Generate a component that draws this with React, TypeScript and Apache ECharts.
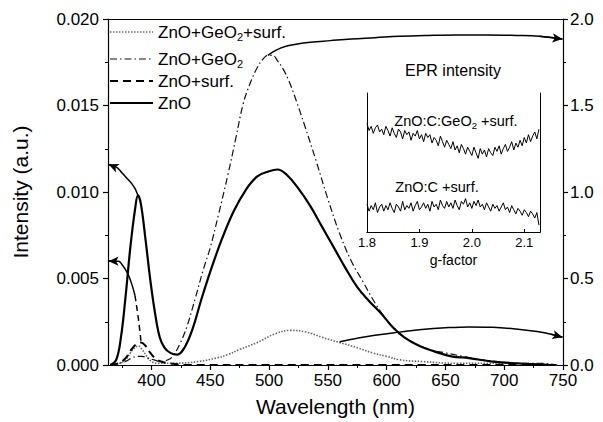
import { useEffect, useRef } from "react";
import * as echarts from "echarts";

const FONT = "Liberation Sans, Arial, sans-serif";

const xMajorTicks = [400, 450, 500, 550, 600, 650, 700, 750];
const xMinorTicks = [375, 425, 475, 525, 575, 625, 675, 725];
const insetTicks = [1.8, 1.9, 2.0, 2.1];

const seriesNames = ["ZnO+GeO2+surf.", "ZnO+GeO2", "ZnO+surf.", "ZnO"];

// ZnO (solid)
const znoWl = [365, 370, 374, 378, 382, 386, 388.5, 391, 395, 399, 403, 407, 411, 416, 422, 428, 435, 442, 450, 460, 470, 480, 490, 500, 507, 515, 525, 535, 545, 555, 565, 575, 585, 595, 605, 615, 628, 640, 655, 670, 690, 710, 740];
const znoVal = [0, 0.0003, 0.0016, 0.004, 0.0068, 0.009, 0.0098, 0.0093, 0.0072, 0.0049, 0.003, 0.0016, 0.001, 0.0007, 0.0006, 0.001, 0.0021, 0.0037, 0.0054, 0.0073, 0.0089, 0.0101, 0.0109, 0.0112, 0.0113, 0.011, 0.0102, 0.0092, 0.008, 0.0068, 0.0056, 0.0045, 0.0037, 0.003, 0.0022, 0.0016, 0.0011, 0.0008, 0.0005, 0.0004, 0.0002, 0.0001, 0];

// ZnO+GeO2 (dash-dot)
const geoWl = [365, 372, 378, 383, 388, 392, 397, 402, 408, 414, 418, 424, 430, 437, 444, 450, 457, 465, 472, 478, 484, 490, 495, 499, 503, 507, 512, 517, 523, 530, 540, 550, 560, 570, 580, 590, 600, 610, 620, 636, 650, 665, 680, 694, 710, 730, 745];
const geoVal = [0, 0.0001, 0.0002, 0.0004, 0.0005, 0.0005, 0.0004, 0.0003, 0.0002, 0.0003, 0.0005, 0.0012, 0.0022, 0.0038, 0.0055, 0.0068, 0.0087, 0.011, 0.0132, 0.0151, 0.0163, 0.0172, 0.0177, 0.0179, 0.0179, 0.0176, 0.0171, 0.0164, 0.0153, 0.0139, 0.0118, 0.0096, 0.0076, 0.006, 0.0048, 0.0036, 0.0026, 0.0019, 0.0014, 0.0009, 0.0007, 0.0005, 0.0003, 0.0002, 0.0001, 0.0001, 0];

// ZnO+surf. (dashed)
const surfWl = [365, 372, 378, 383, 387, 391, 395, 399, 403, 408, 415, 430, 500, 600, 700, 745];
const surfVal = [0, 0.0001, 0.0004, 0.0009, 0.0012, 0.0013, 0.0011, 0.0007, 0.0004, 0.0002, 0.0001, 0, 0, 0, 0, 0];

// ZnO+GeO2+surf. (dotted)
const geoSurfWl = [365, 373, 378, 382, 386, 389, 392, 396, 400, 405, 420, 440, 455, 465, 475, 490, 505, 518, 532, 545, 560, 575, 588, 600, 611, 630, 660, 700, 745];
const geoSurfVal = [0, 0.0001, 0.0003, 0.0007, 0.001, 0.0011, 0.0009, 0.0005, 0.0002, 0.0001, 0.0001, 0.0002, 0.0004, 0.0006, 0.0009, 0.0013, 0.0018, 0.002, 0.0019, 0.0016, 0.0013, 0.001, 0.0007, 0.0005, 0.0003, 0.0002, 0.0001, 0.0001, 0];

// annotation arrows (data coordinates)
const arrowZnoWl = [388.5, 386, 383, 379, 375, 371, 367, 363.5];
const arrowZnoVal = [0.0098, 0.0102, 0.0105, 0.0108, 0.0111, 0.0114, 0.0115, 0.0116];
const arrowSurfWl = [386, 384, 381, 378, 375, 372, 368, 363.5];
const arrowSurfVal = [0.004, 0.0045, 0.0051, 0.0055, 0.0058, 0.006, 0.006, 0.006];
const arrowSurfLinkWl = [391, 389, 386];
const arrowSurfLinkVal = [0.0014, 0.0026, 0.004];
const arrowGeoWl = [499, 506, 513, 524, 535, 552, 570, 590, 611, 635, 660, 685, 710, 730, 749.5];
const arrowGeoVal = [1.79, 1.82, 1.84, 1.855, 1.865, 1.875, 1.885, 1.892, 1.9, 1.905, 1.908, 1.908, 1.905, 1.9, 1.885];
const arrowGeoSurfWl = [560, 575, 590, 611, 630, 650, 670, 690, 710, 728, 740, 749.5];
const arrowGeoSurfVal = [0.135, 0.155, 0.172, 0.19, 0.205, 0.215, 0.22, 0.218, 0.208, 0.193, 0.178, 0.16];

// EPR inset traces (g-factor sampled every 0.004 from 1.800)
const eprGeoSurf = [
  0.78, 0.73, 0.76, 0.71, 0.75, 0.77, 0.72, 0.74, 0.7, 0.76,
  0.73, 0.69, 0.75, 0.71, 0.68, 0.74, 0.72, 0.67, 0.73, 0.7,
  0.72, 0.66, 0.71, 0.69, 0.73, 0.67, 0.7, 0.65, 0.71, 0.68,
  0.7, 0.64, 0.68, 0.66, 0.62, 0.69, 0.65, 0.61, 0.66, 0.63,
  0.6, 0.65, 0.59, 0.62, 0.57, 0.63, 0.6, 0.56, 0.61, 0.58,
  0.55, 0.61, 0.57, 0.53, 0.6, 0.56, 0.59, 0.54, 0.6, 0.57,
  0.55, 0.61, 0.58, 0.62, 0.56, 0.6, 0.63, 0.58, 0.61, 0.65,
  0.59, 0.64, 0.61, 0.66, 0.62, 0.68, 0.64, 0.7, 0.65, 0.69,
  0.72, 0.67, 0.74,
];
const eprSurf = [
  0.2, 0.15, 0.19, 0.16, 0.21, 0.14, 0.18, 0.2, 0.15, 0.19,
  0.16, 0.21, 0.17, 0.14, 0.2, 0.18, 0.15, 0.22, 0.16, 0.19,
  0.17, 0.21, 0.15, 0.19, 0.22, 0.16, 0.18, 0.21, 0.17, 0.2,
  0.15, 0.22, 0.18, 0.2, 0.16, 0.23, 0.19, 0.17, 0.22, 0.18,
  0.21, 0.17, 0.23, 0.19, 0.16, 0.22, 0.2, 0.24, 0.18, 0.21,
  0.17, 0.22, 0.19, 0.23, 0.18, 0.2, 0.16, 0.21, 0.18, 0.15,
  0.2, 0.17, 0.19, 0.15, 0.18, 0.21, 0.16, 0.18, 0.14, 0.19,
  0.16, 0.13, 0.17, 0.15, 0.12, 0.16, 0.14, 0.11, 0.15, 0.13,
  0.1, 0.14, 0.05,
];

const pairs = (xs: number[], ys: number[]) => xs.map((x, i) => [x, ys[i]]);
const gPairs = (ys: number[]) => ys.map((y, i) => [+(1.8 + 0.004 * i).toFixed(3), y]);

const legendRich: Record<string, string> = {
  "ZnO+GeO2+surf.": "{t|ZnO+GeO}{s|2}{t|+surf.}",
  "ZnO+GeO2": "{t|ZnO+GeO}{s|2}",
  "ZnO+surf.": "{t|ZnO+surf.}",
  ZnO: "{t|ZnO}",
};
const legendStyles = [
  { stroke: "#666", lineWidth: 1.6, lineDash: [1.5, 1.5] },
  { stroke: "#111", lineWidth: 1.2, lineDash: [7, 3, 1.5, 3] },
  { stroke: "#000", lineWidth: 2, lineDash: [8, 5] },
  { stroke: "#000", lineWidth: 2.2, lineDash: null as any },
];
const legendY = [32, 59, 81, 103];

export default function App() {
  const ref = useRef<HTMLDivElement>(null);
  useEffect(() => {
    if (!ref.current) return;
    const chart = echarts.init(ref.current, undefined, { renderer: "svg" });
    const black = "#000";
    const lineAx = { show: true, lineStyle: { color: black, width: 1.2 } };
    const arrowCurve = (xs: number[], ys: number[], yIdx: number, head: boolean, type: any = "solid") => ({
      type: "line",
      xAxisIndex: 0,
      yAxisIndex: yIdx,
      data: pairs(xs, ys),
      smooth: 0.4,
      symbol: "none",
      silent: true,
      lineStyle: { color: black, width: 1.5, type },
      z: 4,
      markLine: head
        ? {
            silent: true,
            symbol: ["none", "arrow"],
            symbolSize: [7, 10],
            label: { show: false },
            lineStyle: { color: black, width: 1.5, type: "solid" },
            data: [[
              { coord: [xs[xs.length - 2], ys[ys.length - 2]] },
              { coord: [xs[xs.length - 1], ys[ys.length - 1]] },
            ]],
          }
        : undefined,
    });
    const rich = {
      t: { fontSize: 17, fontFamily: FONT, fill: black },
      s: { fontSize: 11, fontFamily: FONT, fill: black, padding: [9, 0, 0, 0] },
    };
    const legendGraphics: any[] = [];
    seriesNames.forEach((n, i) => {
      legendGraphics.push({
        type: "line",
        shape: { x1: 110, y1: legendY[i], x2: 153, y2: legendY[i] },
        style: legendStyles[i],
      });
      legendGraphics.push({
        type: "text",
        x: 158,
        y: legendY[i],
        style: { text: legendRich[n], rich, verticalAlign: "middle", fill: black },
      });
    });
    chart.setOption({
      animation: false,
      textStyle: { fontFamily: FONT },
      grid: [
        { left: 108, top: 19, width: 455, height: 346 },
        { left: 367, top: 93, width: 173, height: 139 },
      ],
      xAxis: [
        {
          gridIndex: 0, type: "value", position: "bottom", min: 363, max: 750,
          axisLine: lineAx,
          axisTick: { show: true, customValues: xMajorTicks, length: 5, lineStyle: { color: black, width: 1.2 } },
          axisLabel: { customValues: xMajorTicks, fontSize: 17, color: black, margin: 7, fontFamily: FONT },
          splitLine: { show: false },
          name: "Wavelength (nm)", nameLocation: "middle", nameGap: 31,
          nameTextStyle: { fontSize: 21, color: black, fontFamily: FONT },
        },
        {
          gridIndex: 0, type: "value", position: "bottom", min: 363, max: 750,
          axisLine: { show: false },
          axisTick: { show: true, customValues: xMinorTicks, length: 3, lineStyle: { color: black, width: 1 } },
          axisLabel: { show: false },
          splitLine: { show: false },
        },
        {
          gridIndex: 0, type: "value", position: "top", min: 363, max: 750,
          axisLine: lineAx, axisTick: { show: false }, axisLabel: { show: false }, splitLine: { show: false },
        },
        {
          gridIndex: 1, type: "value", position: "bottom", min: 1.8, max: 2.13,
          axisLine: { show: true, lineStyle: { color: black, width: 1 } },
          axisTick: { show: true, inside: true, customValues: insetTicks, length: 3, lineStyle: { color: black } },
          axisLabel: { customValues: insetTicks, fontSize: 13, color: black, margin: 4, fontFamily: FONT, formatter: (v: number) => v.toFixed(1) },
          splitLine: { show: false },
          name: "g-factor", nameLocation: "middle", nameGap: 21,
          nameTextStyle: { fontSize: 14, color: black, fontFamily: FONT },
        },
        {
          gridIndex: 1, type: "value", position: "top", min: 1.8, max: 2.13,
          axisLine: { show: true, lineStyle: { color: black, width: 1 } },
          axisTick: { show: false }, axisLabel: { show: false }, splitLine: { show: false },
        },
      ],
      yAxis: [
        {
          gridIndex: 0, type: "value", position: "left", min: 0, max: 0.02, interval: 0.005,
          axisLine: lineAx,
          axisTick: { show: true, length: 5, lineStyle: { color: black, width: 1.2 } },
          minorTick: { show: true, splitNumber: 2, length: 3, lineStyle: { color: black } },
          axisLabel: { fontSize: 17, color: black, margin: 9, fontFamily: FONT, formatter: (v: number) => v.toFixed(3) },
          splitLine: { show: false },
          name: "Intensity (a.u.)", nameLocation: "middle", nameGap: 77,
          nameTextStyle: { fontSize: 21, color: black, fontFamily: FONT },
        },
        {
          gridIndex: 0, type: "value", position: "right", min: 0, max: 2, interval: 0.5,
          axisLine: lineAx,
          axisTick: { show: true, length: 5, lineStyle: { color: black, width: 1.2 } },
          minorTick: { show: true, splitNumber: 2, length: 3, lineStyle: { color: black } },
          axisLabel: { fontSize: 17, color: black, margin: 7, fontFamily: FONT, formatter: (v: number) => v.toFixed(1) },
          splitLine: { show: false },
        },
        {
          gridIndex: 1, type: "value", position: "left", min: 0, max: 1,
          axisLine: { show: true, lineStyle: { color: black, width: 1 } },
          axisTick: { show: false }, axisLabel: { show: false }, splitLine: { show: false },
        },
        {
          gridIndex: 1, type: "value", position: "right", min: 0, max: 1,
          axisLine: { show: true, lineStyle: { color: black, width: 1 } },
          axisTick: { show: false }, axisLabel: { show: false }, splitLine: { show: false },
        },
      ],
      graphic: [
        ...legendGraphics,
        { type: "text", x: 453, y: 70, style: { text: "EPR intensity", fontSize: 16, fontFamily: FONT, fill: black, align: "center", verticalAlign: "middle" } },
        {
          type: "text", x: 456, y: 121,
          style: {
            text: "{t|ZnO:C:GeO}{s|2}{t| +surf.}", fill: black, align: "center", verticalAlign: "middle",
            rich: { t: { fontSize: 14.5, fontFamily: FONT, fill: black }, s: { fontSize: 9.5, fontFamily: FONT, fill: black, padding: [8, 0, 0, 0] } },
          },
        },
        { type: "text", x: 437, y: 187, style: { text: "ZnO:C +surf.", fontSize: 14.5, fontFamily: FONT, fill: black, align: "center", verticalAlign: "middle" } },
      ],
      series: [
        {
          name: seriesNames[0], type: "line", xAxisIndex: 0, yAxisIndex: 0, data: pairs(geoSurfWl, geoSurfVal),
          smooth: 0.4, symbol: "none", lineStyle: { color: "#666", width: 1.6, type: [1.5, 1.5] }, z: 3,
        },
        {
          name: seriesNames[1], type: "line", xAxisIndex: 0, yAxisIndex: 0, data: pairs(geoWl, geoVal),
          smooth: 0.4, symbol: "none", lineStyle: { color: "#111", width: 1.2, type: [7, 3, 1.5, 3] }, z: 3,
        },
        {
          name: seriesNames[2], type: "line", xAxisIndex: 0, yAxisIndex: 0, data: pairs(surfWl, surfVal),
          smooth: 0.4, symbol: "none", lineStyle: { color: black, width: 2, type: [8, 5] }, z: 3,
        },
        {
          name: seriesNames[3], type: "line", xAxisIndex: 0, yAxisIndex: 0, data: pairs(znoWl, znoVal),
          smooth: 0.4, symbol: "none", lineStyle: { color: black, width: 2.2 }, z: 3,
        },
        arrowCurve(arrowZnoWl, arrowZnoVal, 0, true),
        arrowCurve(arrowSurfWl, arrowSurfVal, 0, true),
        arrowCurve(arrowSurfLinkWl, arrowSurfLinkVal, 0, false, [6, 4]),
        arrowCurve(arrowGeoWl, arrowGeoVal, 1, true),
        arrowCurve(arrowGeoSurfWl, arrowGeoSurfVal, 1, true),
        {
          type: "line", xAxisIndex: 3, yAxisIndex: 2, data: gPairs(eprGeoSurf), symbol: "none",
          silent: true, lineStyle: { color: black, width: 1 },
        },
        {
          type: "line", xAxisIndex: 3, yAxisIndex: 2, data: gPairs(eprSurf), symbol: "none",
          silent: true, lineStyle: { color: black, width: 1 },
        },
      ],
    });
    return () => chart.dispose();
  }, []);
  return <div ref={ref} style={{ position: "fixed", left: 0, top: 0, width: 603, height: 422, background: "#fff" }} />;
}
